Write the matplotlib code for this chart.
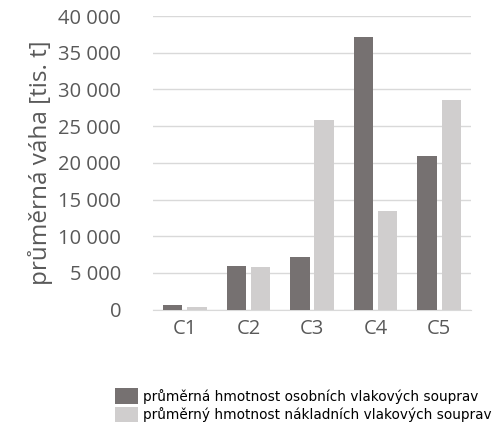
import matplotlib
matplotlib.use('Agg')
import matplotlib.pyplot as plt
import numpy as np

categories = ['C1', 'C2', 'C3', 'C4', 'C5']
osobni = [700, 6000, 7200, 37100, 21000]
nakladni = [350, 5800, 25800, 13500, 28600]
series_names = ['průměrná hmotnost osobních vlakových souprav',
                'průměrný hmotnost nákladních vlakových souprav']
yticks = [0, 5000, 10000, 15000, 20000, 25000, 30000, 35000, 40000]

dark = '#767171'
light = '#d0cece'

fig = plt.figure(figsize=(4.99, 4.30), dpi=100)
ax = fig.add_axes([153 / 499, 120.3 / 430, 318 / 499, 293.7 / 430])

x = np.arange(len(categories))
w = 0.305
b1 = ax.bar(x - 0.19, osobni, w, color=dark, label=series_names[0], zorder=3)
b2 = ax.bar(x + 0.19, nakladni, w, color=light, label=series_names[1], zorder=3)

ax.set_xlim(-0.5, len(categories) - 0.5)
ax.set_ylim(0, 40000)
ax.set_yticks(yticks)
ax.set_yticklabels(['{:,}'.format(v).replace(',', ' ') for v in yticks])
ax.set_xticks(x)
ax.set_xticklabels(categories)

for s in ['top', 'right', 'left']:
    ax.spines[s].set_visible(False)
ax.spines['bottom'].set_color('#d9d9d9')
ax.yaxis.grid(True, color='#d9d9d9', linewidth=1, zorder=0)
ax.tick_params(axis='both', length=0, labelsize=14.5, labelcolor='#595959',
               labelfontfamily='Open Sans')
ax.tick_params(axis='y', pad=23)
ax.tick_params(axis='x', pad=7)

ax.set_ylabel('průměrná váha [tis. t]', fontsize=17.5, color='#595959',
              fontfamily='Open Sans', labelpad=4)

fig.legend(handles=[b1, b2], loc='upper left', bbox_to_anchor=(110 / 499, 1 - 383 / 430),
           frameon=False, handlelength=1.65, handleheight=1.35,
           handletextpad=0.35, labelspacing=0.25, borderaxespad=0,
           prop={'family': 'DejaVu Sans', 'size': 9.8})

fig.savefig('out.png', dpi=100)
